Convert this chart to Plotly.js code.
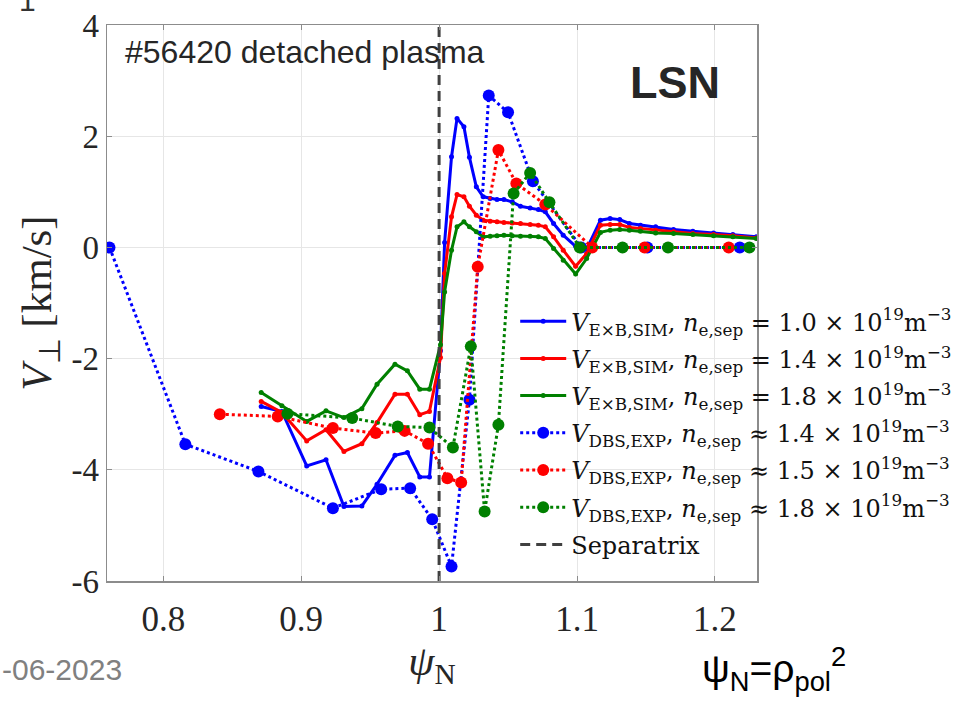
<!DOCTYPE html>
<html>
<head>
<meta charset="utf-8">
<script src="https://cdn.plot.ly/plotly-3.0.1.min.js"></script>
<style>html,body{margin:0;padding:0;background:#fff;}#chart{width:965px;height:701px;}</style>
</head>
<body>
<div id="chart"></div>
<script>
// ---- data ----
const simPsi = [0.871, 0.886, 0.904, 0.918, 0.931, 0.944, 0.955, 0.968, 0.977, 0.986, 0.993,
  1.001, 1.004, 1.009, 1.013, 1.018, 1.022, 1.027, 1.032, 1.037, 1.042, 1.047, 1.053, 1.059,
  1.066, 1.072, 1.077, 1.083, 1.090, 1.099, 1.107, 1.117, 1.124, 1.131, 1.138, 1.146, 1.157,
  1.170, 1.184, 1.199, 1.213, 1.230];
const simV10 = [-2.86, -2.95, -3.93, -3.82, -4.66, -4.65, -4.26, -3.74, -3.69, -4.13, -4.13,
  -1.86, 0.09, 1.63, 2.32, 2.17, 1.62, 1.09, 0.91, 0.88, 0.86, 0.86, 0.82, 0.74,
  0.71, 0.68, 0.64, 0.43, 0.22, 0.02, -0.03, 0.49, 0.52, 0.50, 0.43, 0.40, 0.37,
  0.32, 0.29, 0.26, 0.23, 0.19];
const simV14 = [-2.77, -2.97, -3.48, -3.28, -3.67, -3.53, -3.15, -2.64, -2.64, -3.01, -2.95,
  -1.98, -0.47, 0.55, 0.95, 0.91, 0.74, 0.58, 0.49, 0.47, 0.46, 0.45, 0.44, 0.43,
  0.41, 0.40, 0.37, 0.19, -0.05, -0.34, -0.11, 0.40, 0.41, 0.41, 0.36, 0.34, 0.31,
  0.28, 0.25, 0.23, 0.21, 0.17];
const simV18 = [-2.61, -2.85, -3.13, -2.94, -3.06, -2.90, -2.46, -2.10, -2.22, -2.55, -2.55,
  -1.75, -0.80, -0.05, 0.37, 0.46, 0.37, 0.28, 0.19, 0.20, 0.21, 0.22, 0.21, 0.20,
  0.20, 0.19, 0.16, -0.02, -0.23, -0.48, -0.20, 0.27, 0.31, 0.32, 0.31, 0.29, 0.26,
  0.25, 0.23, 0.21, 0.19, 0.16];

const dbsPsi14 = [0.761, 0.816, 0.869, 0.923, 0.958, 0.979, 0.995, 1.009, 1.022, 1.036, 1.050, 1.068, 1.103, 1.151, 1.218];
const dbsV14   = [0, -3.54, -4.03, -4.69, -4.35, -4.33, -4.89, -5.74, -2.74, 2.73, 2.43, 1.19, 0, 0, 0];
const dbsPsi15 = [0.841, 0.883, 0.923, 0.954, 0.975, 0.992, 1.006, 1.016, 1.028, 1.043, 1.056, 1.077, 1.111, 1.149, 1.210];
const dbsV15   = [-3.00, -3.04, -3.25, -3.34, -3.30, -3.53, -4.15, -4.23, -0.35, 1.75, 1.15, 0.77, 0, 0, 0];
const dbsPsi18 = [0.890, 0.937, 0.970, 0.993, 1.010, 1.023, 1.033, 1.043, 1.054, 1.066, 1.080, 1.102, 1.133, 1.166, 1.225];
const dbsV18   = [-2.99, -3.07, -3.22, -3.24, -3.60, -1.78, -4.75, -3.19, 0.97, 1.34, 0.81, 0, 0, 0, 0];

const separatrixPsi = [1, 1];
const separatrixV = [-6, 4];

const xTickVals = [0.8, 0.9, 1, 1.1, 1.2];
const xTickText = ["0.8", "0.9", "1", "1.1", "1.2"];
const yTickVals = [-6, -4, -2, 0, 2, 4];
const yTickText = ["-6", "-4", "-2", "0", "2", "4"];

const legendNames = [
  "<i>V</i><sub>E×B,SIM</sub>, <i>n</i><sub>e,sep</sub> = 1.0 × 10<sup>19</sup>m<sup>−3</sup>",
  "<i>V</i><sub>E×B,SIM</sub>, <i>n</i><sub>e,sep</sub> = 1.4 × 10<sup>19</sup>m<sup>−3</sup>",
  "<i>V</i><sub>E×B,SIM</sub>, <i>n</i><sub>e,sep</sub> = 1.8 × 10<sup>19</sup>m<sup>−3</sup>",
  "<i>V</i><sub>DBS,EXP</sub>, <i>n</i><sub>e,sep</sub> ≈ 1.4 × 10<sup>19</sup>m<sup>−3</sup>",
  "<i>V</i><sub>DBS,EXP</sub>, <i>n</i><sub>e,sep</sub> ≈ 1.5 × 10<sup>19</sup>m<sup>−3</sup>",
  "<i>V</i><sub>DBS,EXP</sub>, <i>n</i><sub>e,sep</sub> ≈ 1.8 × 10<sup>19</sup>m<sup>−3</sup>",
  "Separatrix"
];

const BLUE = "#0000ff", RED = "#ff0000", GREEN = "#008000";

function simTrace(y, color, name, grp) {
  return {x: simPsi, y: y, type: "scatter", mode: "lines+markers", name: name, legendgroup: grp,
    line: {color: color, width: 3}, marker: {color: color, size: 5}};
}
function dbsTrace(x, y, color, name, grp) {
  return {x: x, y: y, type: "scatter", mode: "lines+markers", name: name, legendgroup: grp,
    line: {color: color, width: 3, dash: "dot"}, marker: {color: color, size: 12, symbol: "circle"}};
}

const traces = [
  simTrace(simV10, BLUE, legendNames[0], "g1"),
  simTrace(simV14, RED, legendNames[1], "g2"),
  simTrace(simV18, GREEN, legendNames[2], "g3"),
  dbsTrace(dbsPsi14, dbsV14, BLUE, legendNames[3], "g4"),
  dbsTrace(dbsPsi15, dbsV15, RED, legendNames[4], "g5"),
  dbsTrace(dbsPsi18, dbsV18, GREEN, legendNames[5], "g6"),
  {x: separatrixPsi, y: separatrixV, type: "scatter", mode: "lines", name: legendNames[6], legendgroup: "g7",
    line: {color: "#404040", width: 3, dash: "10px,6px"}}
];

const serif = "Liberation Serif, Times New Roman, serif";
const sans = "Liberation Sans, Arial, sans-serif";

const layout = {
  width: 965, height: 701,
  margin: {l: 107, r: 208, t: 25, b: 120, autoexpand: false},
  paper_bgcolor: "#ffffff", plot_bgcolor: "#ffffff",
  showlegend: true,
  xaxis: {
    range: [0.7592, 1.2305], tickvals: xTickVals, ticktext: xTickText,
    showgrid: true, gridcolor: "#e6e6e6", gridwidth: 1, zeroline: false,
    showline: true, mirror: "ticks", linecolor: "#8c8c8c", linewidth: 1.5,
    ticks: "inside", ticklen: 5, tickcolor: "#8c8c8c",
    ticklabelstandoff: 6,
    tickfont: {family: serif, size: 35, color: "#262626"},
    title: {text: "<i>ψ</i><sub>N</sub>", font: {family: serif, size: 42, color: "#262626"}, standoff: 6}
  },
  yaxis: {
    range: [-6, 4], tickvals: yTickVals, ticktext: yTickText,
    showgrid: true, gridcolor: "#e6e6e6", gridwidth: 1, zeroline: false,
    showline: true, mirror: "ticks", linecolor: "#8c8c8c", linewidth: 1.5,
    ticks: "inside", ticklen: 5, tickcolor: "#8c8c8c",
    tickfont: {family: serif, size: 33, color: "#262626"},
    title: {text: "<i>V</i><sub>⊥</sub> [km/s]", font: {family: serif, size: 43, color: "#262626"}, standoff: 6}
  },
  legend: {
    x: 0.628, xanchor: "left", y: 0.507, yanchor: "top",
    bgcolor: "rgba(255,255,255,0)", borderwidth: 0,
    font: {family: "DejaVu Serif, serif", size: 24, color: "#111111"},
    itemwidth: 46, tracegroupgap: 3
  },
  annotations: [
    {text: "#56420 detached plasma", xref: "paper", yref: "paper", x: 0.0246, y: 0.987,
      xanchor: "left", yanchor: "top", showarrow: false,
      font: {family: sans, size: 32, color: "#262626"}},
    {text: "<b>LSN</b>", xref: "paper", yref: "paper", x: 0.874, y: 0.896,
      xanchor: "center", yanchor: "middle", showarrow: false,
      font: {family: sans, size: 45, color: "#262626"}},
    {text: "ψ<sub>N</sub>=ρ<sub>pol</sub><sup>2</sup>", xref: "paper", yref: "paper", x: 0.912, y: -0.158,
      xanchor: "left", yanchor: "middle", showarrow: false,
      font: {family: sans, size: 39, color: "#000000"}},
    {text: "-06-2023", xref: "paper", yref: "paper", x: -0.1646, y: -0.160,
      xanchor: "left", yanchor: "middle", showarrow: false,
      font: {family: sans, size: 30, color: "#808080"}},
    {text: "1", xref: "paper", yref: "paper", x: -0.122, y: 1.011,
      xanchor: "center", yanchor: "bottom", showarrow: false,
      font: {family: sans, size: 30, color: "#333333"}}
  ]
};

Plotly.newPlot("chart", traces, layout, {staticPlot: true, displayModeBar: false});
</script>
</body>
</html>
